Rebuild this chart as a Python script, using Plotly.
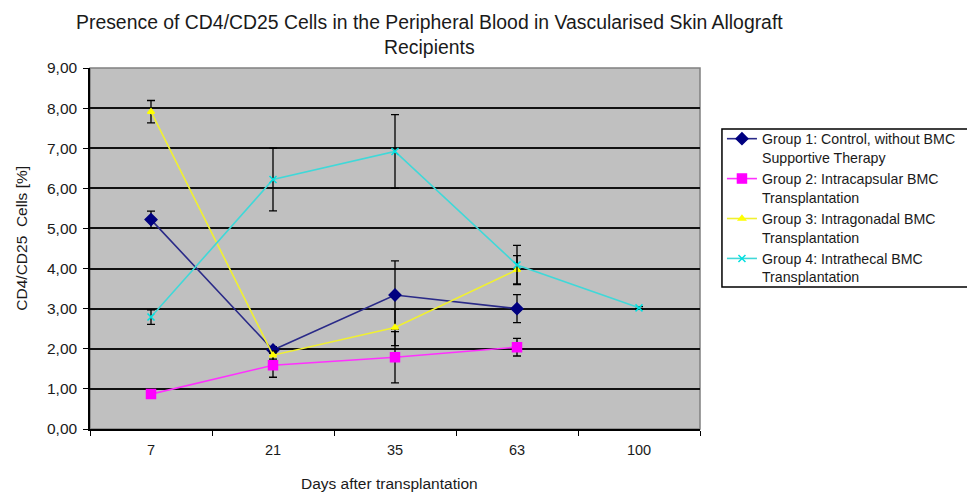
import plotly.graph_objects as go

days = ["7", "21", "35", "63", "100"]
group_names = [
    "Group 1: Control, without BMC<br>Supportive Therapy",
    "Group 2: Intracapsular BMC<br>Transplantation",
    "Group 3: Intragonadal BMC<br>Transplantation",
    "Group 4: Intrathecal BMC<br>Transplantation",
]
g1_values = [5.22, 1.97, 3.34, 3.00, None]
g1_err = [0.21, 0.08, 0.85, 0.35, None]
g2_values = [0.87, 1.59, 1.79, 2.04, None]
g2_err = [0.08, 0.30, 0.64, 0.22, None]
g3_values = [7.91, 1.84, 2.53, 3.97, None]
g3_err = [0.28, 0.10, 0.45, 0.35, None]
g4_values = [2.79, 6.22, 6.92, 4.09, 3.02]
g4_err = [0.18, 0.78, 0.92, 0.49, 0.03]
y_ticks = [0, 1, 2, 3, 4, 5, 6, 7, 8, 9]
y_tick_labels = ["0,00", "1,00", "2,00", "3,00", "4,00", "5,00", "6,00", "7,00", "8,00", "9,00"]

styles = [
    dict(line="#2a2a88", marker="#000080", symbol="diamond", size=9),
    dict(line="#ff30ff", marker="#ff00ff", symbol="square", size=9),
    dict(line="#f0f030", marker="#ffff00", symbol="triangle-up", size=6),
    dict(line="#40d8d8", marker="#00e0e0", symbol="x-thin", size=7),
]
series = [(g1_values, g1_err), (g2_values, g2_err), (g3_values, g3_err), (g4_values, g4_err)]

fig = go.Figure()
for name, (vals, errs), st in zip(group_names, series, styles):
    xs = [d for d, v in zip(days, vals) if v is not None]
    ys = [v for v in vals if v is not None]
    es = [e for e, v in zip(errs, vals) if v is not None]
    fig.add_trace(go.Scatter(
        x=xs, y=ys, name=name, mode="lines+markers",
        line=dict(color=st["line"], width=1.6),
        marker=dict(color=st["marker"], symbol=st["symbol"], size=st["size"],
                    line=dict(color=st["marker"], width=1.5)),
        error_y=dict(type="data", array=es, visible=True, color="black",
                     thickness=1.3, width=4),
    ))

FONT = "Liberation Sans, Arial, sans-serif"
TXT = "#1a1a1a"
fig.update_layout(
    width=967, height=485,
    paper_bgcolor="white", plot_bgcolor="#c0c0c0",
    font=dict(family=FONT, color="black", size=14),
    margin=dict(l=82, r=275, t=60, b=64, autoexpand=False),
    showlegend=True,
    legend=dict(
        x=1.036, xanchor="left", y=0.8478, yanchor="top",
        bgcolor="rgba(0,0,0,0)", borderwidth=0, valign="top",
        font=dict(size=14.2, color=TXT), tracegroupgap=0, itemwidth=30,
    ),
    xaxis=dict(
        type="category", categoryorder="array", categoryarray=days,
        automargin=False,
        tickson="boundaries", ticks="outside", ticklen=5, tickcolor="black",
        tickfont=dict(size=14.5, color=TXT), ticklabelstandoff=7,
        showline=True, linecolor="black", linewidth=1.5, mirror=False,
        showgrid=False,
        range=[-0.5, 4.5],
    ),
    yaxis=dict(
        range=[0, 9], tickvals=y_ticks, ticktext=y_tick_labels,
        automargin=False,
        ticks="outside", ticklen=5, tickcolor="black",
        tickfont=dict(size=15.5, color=TXT), ticklabelstandoff=3,
        showline=True, linecolor="black", linewidth=1.5,
        showgrid=True, gridcolor="#111111", gridwidth=1.6, zeroline=False,
    ),
    annotations=[
        dict(
            text="Presence of CD4/CD25 Cells in the Peripheral Blood in Vascularised Skin Allograft<br>Recipients",
            xref="paper", yref="paper", x=0.557, y=1.163, xanchor="center", yanchor="top",
            showarrow=False, font=dict(size=19.4, family=FONT, color=TXT),
        ),
        dict(
            text="Days after transplantation",
            xref="paper", yref="paper", x=0.4918, y=-0.1496, xanchor="center", yanchor="middle",
            showarrow=False, font=dict(size=15.5, family=FONT, color=TXT),
        ),
        dict(
            text="CD4/CD25  Cells [%]", textangle=-90,
            xref="paper", yref="paper", x=-0.1115, y=0.530, xanchor="center", yanchor="middle",
            showarrow=False, font=dict(size=15.5, family=FONT, color=TXT),
        ),
    ],
    shapes=[
        dict(type="rect", xref="paper", yref="paper", x0=0, y0=0, x1=1, y1=1,
             line=dict(color="#808080", width=1.5), layer="below"),
        dict(type="rect", xref="paper", yref="paper", x0=1.036, x1=1.4426,
             y0=0.3934, y1=0.831, line=dict(color="black", width=1.5),
             fillcolor="white", layer="below"),
    ],
)

fig.write_html("out.html")
